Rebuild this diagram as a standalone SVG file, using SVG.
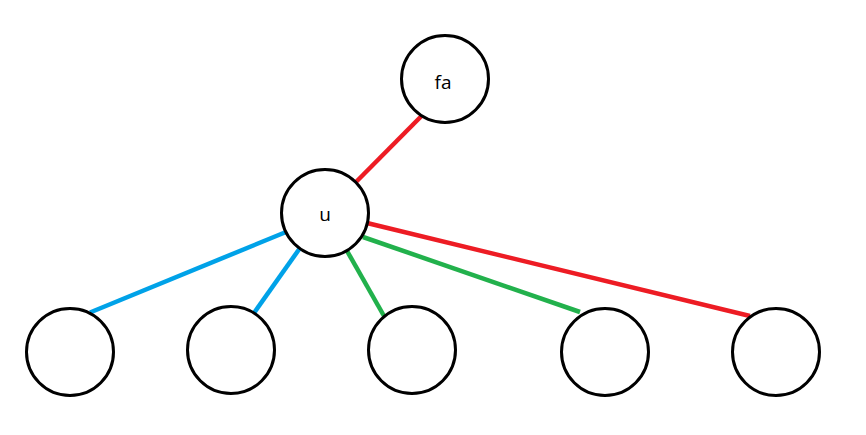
<svg xmlns="http://www.w3.org/2000/svg" width="866" height="435" viewBox="0 0 866 435">
<style>
.n{fill:#fff;stroke:#000;stroke-width:3}
.t{font-family:"Open Sans","Liberation Sans",sans-serif;font-size:19px;fill:#000;text-anchor:middle}
.e{stroke-width:4.5;fill:none;stroke-linecap:butt}
.r{stroke:#ED1C24}.b{stroke:#00A2E8}.g{stroke:#22B14C}
</style>
<rect width="866" height="435" fill="#fff"/>
<g id="connectors">
<line class="e r" x1="421.5" y1="116" x2="356" y2="182"/>
<line class="e b" x1="286" y1="232" x2="90" y2="312.5"/>
<line class="e b" x1="300" y1="248" x2="254" y2="313"/>
<line class="e g" x1="346.5" y1="250" x2="384" y2="316"/>
<line class="e g" x1="363" y1="237" x2="580" y2="312"/>
<line class="e r" x1="367" y1="223" x2="750" y2="316"/>
</g>
<g id="node-fa"><circle class="n" cx="445" cy="79" r="43.5"/><text class="t" x="443" y="89">fa</text></g>
<g id="node-u"><circle class="n" cx="325" cy="213" r="43.5"/><text class="t" x="325" y="221">u</text></g>
<g id="node-c1"><circle class="n" cx="70" cy="352" r="43.5"/></g>
<g id="node-c2"><circle class="n" cx="231" cy="350" r="43.5"/></g>
<g id="node-c3"><circle class="n" cx="412" cy="350" r="43.5"/></g>
<g id="node-c4"><circle class="n" cx="605" cy="352" r="43.5"/></g>
<g id="node-c5"><circle class="n" cx="776" cy="352" r="43.5"/></g>
</svg>
